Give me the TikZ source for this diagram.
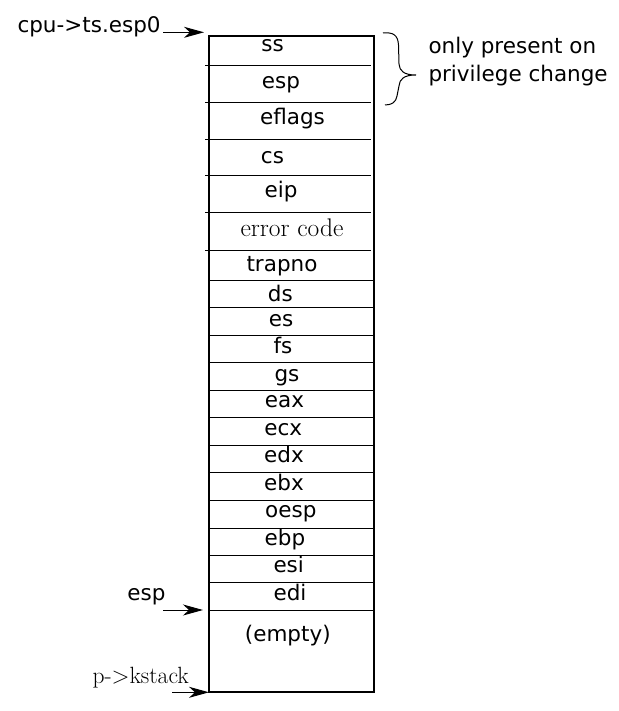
\documentclass[tikz,border=0pt]{standalone}
\usepackage{fontspec}
\newfontfamily\dejavu{DejaVu Sans}
\usetikzlibrary{arrows.meta}
\begin{document}
\begin{tikzpicture}[x=1pt,y=-1pt,
  lbl/.style={font=\dejavu\fontsize{21.5}{26}\selectfont, anchor=base, inner sep=0pt},
  slbl/.style={font=\fontsize{23.5}{28}\selectfont, anchor=base, inner sep=0pt},
  frame/.style={line width=1.8pt},
  rowline/.style={line width=1pt},
  ptr/.style={line width=1pt, -{Stealth[length=20pt,width=11pt,inset=6pt]}}
]
\useasboundingbox (0,0) rectangle (618,711);

% stack frame outline
\coordinate (boxNW) at (209,36);
\coordinate (boxSE) at (374,692);
\draw[frame] (boxNW) rectangle (boxSE);

% slot separators
\foreach \y in {66,103,140,176,213,250}
  \draw[rowline] (205,\y) -- (371,\y);
\foreach \y in {280,307.3,335,362,390.7,417.3,445.3,472.7,500.7,528.3,555.7,582.3,610}
  \draw[rowline] (209,\y) -- (374,\y);

% slot contents
\node[lbl] (ss)     at (272.5,51.5) {ss};
\node[lbl] (esp1)   at (281,89)     {esp};
\node[lbl] (eflags) at (292.5,124.3){eflags};
\node[lbl] (cs)     at (272.5,163.3){cs};
\node[lbl] (eip)    at (281,198)    {eip};
\node[slbl, font=\fontsize{25.5}{30}\selectfont] (err) at (292,236.7) {error code};
\node[lbl] (trapno) at (282,271)    {trapno};
\node[lbl] (ds)     at (280.3,301.7){ds};
\node[lbl] (es)     at (281,326.5)  {es};
\node[lbl] (fs)     at (283,353)    {fs};
\node[lbl] (gs)     at (287,381)    {gs};
\node[lbl] (eax)    at (284.5,407.7){eax};
\node[lbl] (ecx)    at (283.3,435)  {ecx};
\node[lbl] (edx)    at (284,462.7)  {edx};
\node[lbl] (ebx)    at (284,490)    {ebx};
\node[lbl] (oesp)   at (290.8,517.3){oesp};
\node[lbl] (ebp)    at (285,545)    {ebp};
\node[lbl] (esi)    at (288.7,572.7){esi};
\node[lbl] (edi)    at (290,600)    {edi};
\node[lbl] (empty)  at (287.8,641.7){(empty)};

% pointers into the frame
\node[lbl, anchor=base west] (cpu) at (17.3,32.3) {cpu->ts.esp0};
\coordinate (cpuTail) at (163,32.3);
\coordinate (cpuHead) at (204,32.3);
\draw[ptr] (cpuTail) -- (cpuHead);

\node[lbl] (espPtr) at (146.5,600) {esp};
\coordinate (espTail) at (163,610);
\coordinate (espHead) at (203,610);
\draw[ptr] (espTail) -- (espHead);

\node[slbl] (kstack) at (140.7,683.3) {p->kstack};
\coordinate (kTail) at (172,692.3);
\coordinate (kHead) at (209,692.3);
\draw[ptr] (kTail) -- (kHead);

% brace over the privilege-change slots
\draw[line width=1pt] (383,33) .. controls (393,32) and (398,35) .. (398.5,45)
  -- (399,64) .. controls (399.5,71) and (404,75) .. (416,75)
  .. controls (404,75) and (399.5,79) .. (399,86)
  -- (397,96) .. controls (396,102) and (392,105) .. (385,105);
\node[lbl, anchor=base west] (note1) at (428.3,53.5) {only present on};
\node[lbl, anchor=base west] (note2) at (428.3,81.7) {privilege change};
\end{tikzpicture}
\end{document}
